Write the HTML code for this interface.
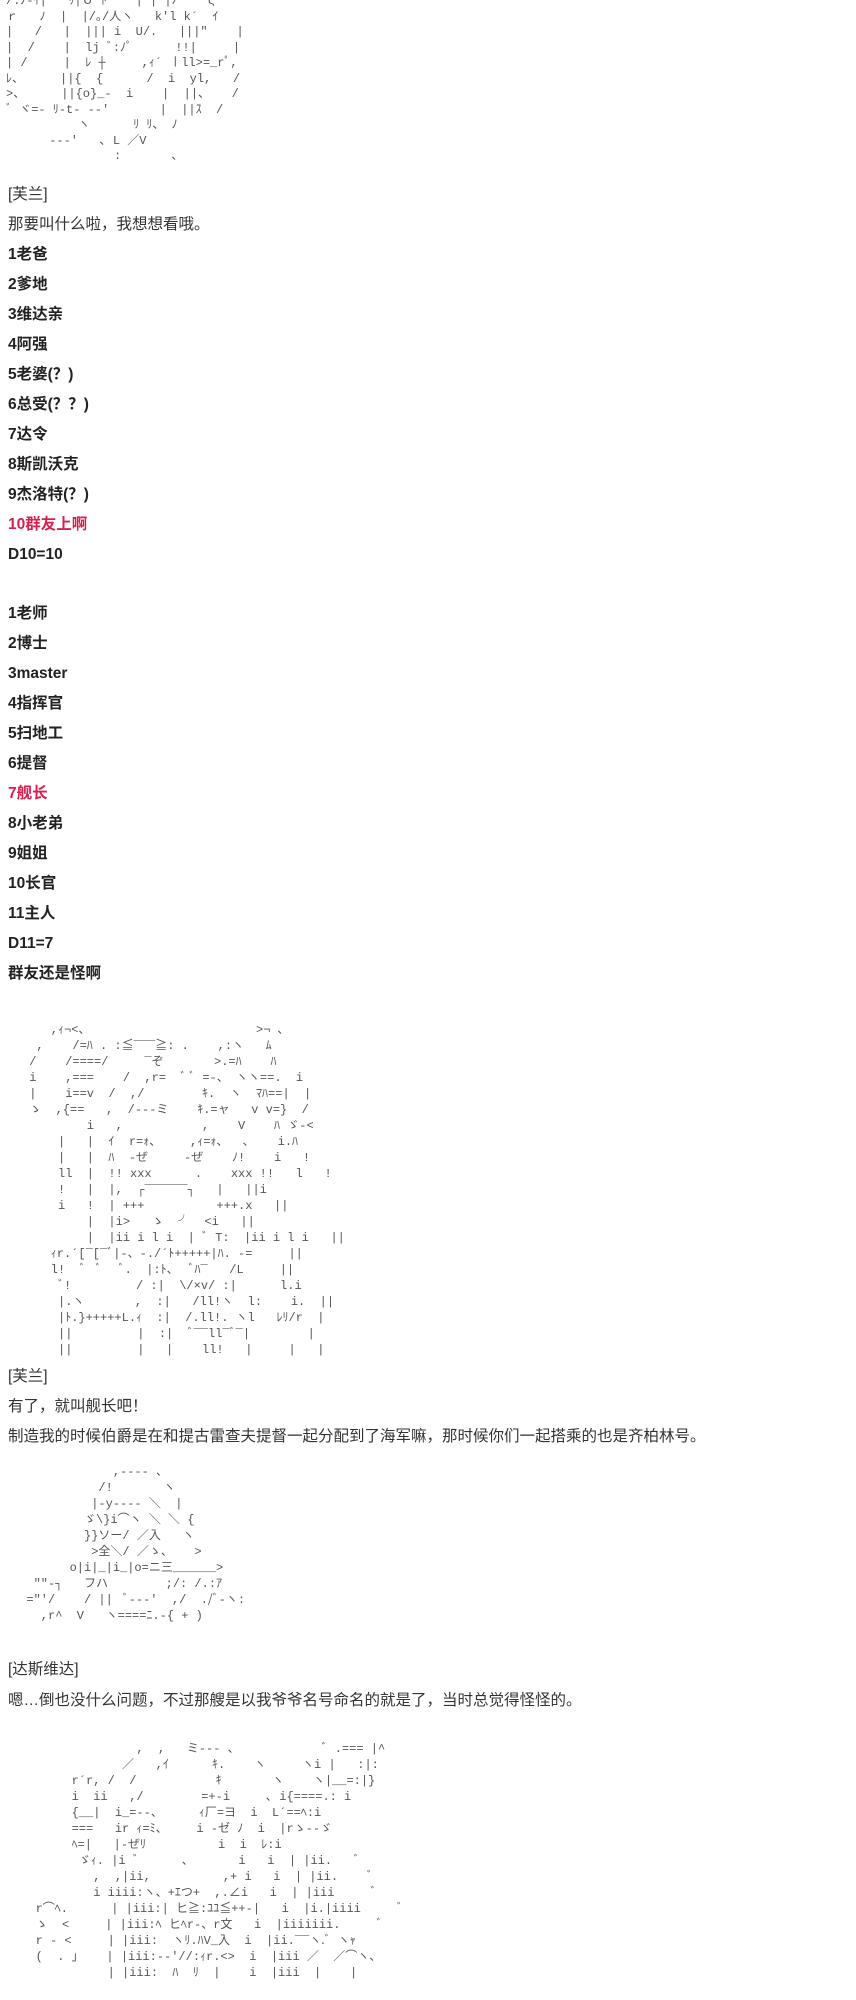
<!DOCTYPE html>
<html><head><meta charset="utf-8"><style>
html,body{margin:0;padding:0;background:#fff;width:856px;height:2000px;overflow:hidden;position:relative;}
.t{position:absolute;left:8px;font-family:"Liberation Sans","Noto Sans CJK SC",sans-serif;font-size:15.5px;line-height:30px;color:#333;white-space:nowrap;}
.b{font-weight:bold;color:#222;}
.r{color:#d6204e;}
pre{position:absolute;margin:0;font-family:"Liberation Mono","Noto Sans CJK JP",monospace;font-size:12px;line-height:16px;color:#555;white-space:pre;}
</style></head><body>
<pre style="left:6px;top:-6px;line-height:15.5px;">/.ﾉ-ｲ|   ﾘ|ｏ ﾄ    | | |/    ς
ｒ   ﾉ  |  |/｡/人ヽ   k'l k´  ｲ
|   /   |  ||| i  U/.   |||"    |
|  /    |  lj ﾞ:ﾉﾟ      !!|     |
| /     |  ﾚ ┼     ,ｨ´ ㇑ll&gt;=_rﾟ,
ﾚ、     ||{  {      /  i  yl,   /
&gt;、     ||{o}_-  i    |  ||、   /
ﾞ ヾ=- ﾘ-t- --'       |  ||ｽ  /
          ヽ      ﾘ ﾘ、 ﾉ
      ‐‐‐'   ､ L ／V
               :       ､</pre>

<div class="t" style="top:180px;">[芙兰]</div>
<div class="t" style="top:210px;">那要叫什么啦，我想想看哦。</div>
<div class="t b" style="top:240px;">1老爸</div>
<div class="t b" style="top:270px;">2爹地</div>
<div class="t b" style="top:300px;">3维达亲</div>
<div class="t b" style="top:330px;">4阿强</div>
<div class="t b" style="top:360px;">5老婆(？)</div>
<div class="t b" style="top:390px;">6总受(？？)</div>
<div class="t b" style="top:420px;">7达令</div>
<div class="t b" style="top:450px;">8斯凯沃克</div>
<div class="t b" style="top:480px;">9杰洛特(？)</div>
<div class="t b r" style="top:510px;">10群友上啊</div>
<div class="t b" style="top:540px;">D10=10</div>

<div class="t b" style="top:599px;">1老师</div>
<div class="t b" style="top:629px;">2博士</div>
<div class="t b" style="top:659px;">3master</div>
<div class="t b" style="top:689px;">4指挥官</div>
<div class="t b" style="top:719px;">5扫地工</div>
<div class="t b" style="top:749px;">6提督</div>
<div class="t b r" style="top:779px;">7舰长</div>
<div class="t b" style="top:809px;">8小老弟</div>
<div class="t b" style="top:839px;">9姐姐</div>
<div class="t b" style="top:869px;">10长官</div>
<div class="t b" style="top:899px;">11主人</div>
<div class="t b" style="top:929px;">D11=7</div>
<div class="t b" style="top:959px;">群友还是怪啊</div>

<pre style="left:22px;top:1022px;">    ,ｨ¬&lt;、                       &gt;¬ ､
  ,    /=ﾊ . :≦‾‾‾≧: .    ,:ヽ   ﾑ
 /    /====/     ‾ぞ       &gt;.=ﾊ    ﾊ
 i    ,===    /  ,r=  ﾞ ﾞ =-、 ヽヽ==.  i
 |    i==v  /  ,/        ｷ.  ヽ  ﾏﾊ==|  |
 ゝ  ,{==   ,  /‐‐‐ミ    ｷ.=ャ   v v=}  /
         i   ,           ,    V    ﾊ ゞ-&lt;
     |   |  ｲ  r=ｫ、    ,ｨ=ｫ、  ､    i.ﾊ
     |   |  ﾊ  ‐ぜ     ‐ぜ    ﾉ!    i   !
     ll  |  !! xxx      .    xxx !!   l   !
     !   |  |,  ┌‾‾‾‾‾‾┐   |   ||i
     i   !  | +++          +++.x   ||
         |  |i&gt;   ゝ  ╯  &lt;i   ||
         |  |ii i l i  | ﾞ T:  |ii i l i   ||
    ｨr.´[‾[‾ﾞ|‐、-./´ﾄ+++++|ﾊ. -=     ||
    l!  ﾞ  ﾞ   ﾞ.  |:ﾄ、  ﾞﾊ‾   /L     ||
     ﾞ!         / :|  \/×v/ :|      l.i
     |.ヽ       ,  :|   /ll!ヽ  l:    i.  ||
     |ﾄ.}+++++L.ｨ  :|  /.ll!. ヽl   ﾚﾘ/r  |
     ||         |  :|  ﾞ‾‾ll‾ﾞ‾|        |
     ||         |   |    ll!   |     |   |</pre>

<div class="t" style="top:1362px;">[芙兰]</div>
<div class="t" style="top:1392px;">有了，就叫舰长吧！</div>
<div class="t" style="top:1422px;">制造我的时候伯爵是在和提古雷查夫提督一起分配到了海军嘛，那时候你们一起搭乘的也是齐柏林号。</div>

<pre style="left:12px;top:1464px;">              ,‐‐‐‐ 、
            /!       ヽ
           |-y‐‐‐- ＼  |
          ゞ\}i⌒ヽ ＼ ＼ {
          }}ソー/ ／入   ヽ
           &gt;全＼/ ／ゝ、   &gt;
        o|i|_|i_|o=ニ三______&gt;
   ""‐┐   フハ        ;/: /.:ｱ
  ="'/    / ||  ﾞ‐‐‐'  ,/  ./ﾞ‐ヽ:
    ,r^  V   ヽ====ﾆ.-{ + )</pre>

<div class="t" style="top:1655px;">[达斯维达]</div>
<div class="t" style="top:1686px;">嗯…倒也没什么问题，不过那艘是以我爷爷名号命名的就是了，当时总觉得怪怪的。</div>

<pre style="left:14px;top:1741px;">                 ,  ,   ミ‐‐‐ 、            ﾞ .=== |^
               ／   ,ｲ      ｷ.    ヽ     ヽi |   :|:
        r´r, /  /           ｷ       ヽ    ヽ|__=:|}
        i  ii   ,/        =+‐i     ､ i{====.: i
        {__|  i_=‐‐、     ｨ厂=ヨ  i  L´==ﾍ:i
        ===   ir ｨ=ﾐ、    i ‐ゼ ﾉ  i  |rゝ‐‐ゞ
        ﾍ=|   |‐ぜﾘ          i  i  ﾚ:i
         ゞｨ. |i ﾞ      ､       i   i  | |ii.   ﾞ
           ,  ,|ii,          ,+ i   i  | |ii.    ﾞ
           i iiii:ヽ、+ｴつ+  ,.∠i   i  | |iii     ﾞ
   r⌒ﾍ.      | |iii:| ヒ≧:ﾕﾕ≦++‐|   i  |i.|iiii     ﾞ
   ゝ  &lt;     | |iii:ﾍ ヒﾍr‐、r文   i  |iiiiiii.     ﾞ
   r ‐ &lt;     | |iii:  ヽﾘ.ﾊV_入  i  |ii.‾‾ヽ.ﾞ ヽｬ
   (  . ｣    | |iii:‐‐'//:ｨr.&lt;&gt;  i  |iii ／  ／⌒ヽ、
             | |iii:  ﾊ  ﾘ  |    i  |iii  |    |</pre>
</body></html>
